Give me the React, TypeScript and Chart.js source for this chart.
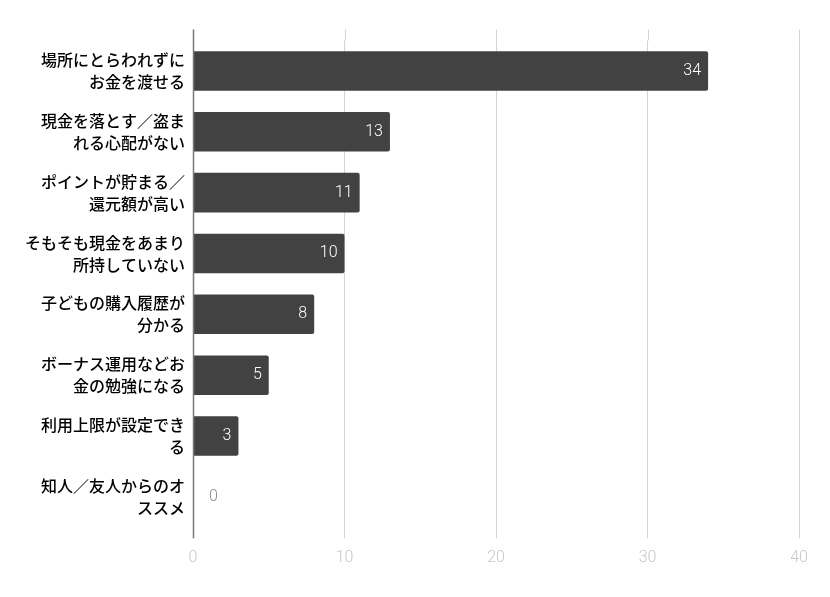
import React, { useEffect, useRef } from 'react';
import { Chart, registerables, ChartConfiguration, Plugin } from 'chart.js';

Chart.register(...registerables);

// tick labels of the category axis (two lines each)
const reasons: string[][] = [
  ['場所にとらわれずに', 'お金を渡せる'],
  ['現金を落とす／盗ま', 'れる心配がない'],
  ['ポイントが貯まる／', '還元額が高い'],
  ['そもそも現金をあまり', '所持していない'],
  ['子どもの購入履歴が', '分かる'],
  ['ボーナス運用などお', '金の勉強になる'],
  ['利用上限が設定でき', 'る'],
  ['知人／友人からのオ', 'ススメ'],
];

const counts: number[] = [34, 13, 11, 10, 8, 5, 3, 0];

const xTicks: number[] = [0, 10, 20, 30, 40];

const EXT = 11; // grid lines reach a bit past the plot area

// grid extension above the plot + the dark left axis line
const framePlugin: Plugin<'bar'> = {
  id: 'frame',
  beforeDatasetsDraw(chart) {
    const { ctx, chartArea, scales } = chart;
    const x = scales.x;
    ctx.save();
    ctx.strokeStyle = '#d4d4d4';
    ctx.lineWidth = 1;
    xTicks.forEach((v) => {
      const px = Math.round(x.getPixelForValue(v)) + 0.5;
      ctx.beginPath();
      ctx.moveTo(px, chartArea.top - EXT);
      ctx.lineTo(px, chartArea.top);
      ctx.stroke();
    });
    ctx.restore();
  },
  afterDraw(chart) {
    const { ctx, chartArea, scales } = chart;
    const px = Math.round(scales.x.getPixelForValue(0)) + 0.5;
    ctx.save();
    ctx.strokeStyle = '#7a7a7a';
    ctx.lineWidth = 1.5;
    ctx.beginPath();
    ctx.moveTo(px, chartArea.top - EXT);
    ctx.lineTo(px, chartArea.bottom + EXT);
    ctx.stroke();
    ctx.restore();
  },
};

// value labels at the bar ends
const valuePlugin: Plugin<'bar'> = {
  id: 'values',
  afterDatasetsDraw(chart) {
    const { ctx } = chart;
    const meta = chart.getDatasetMeta(0);
    ctx.save();
    ctx.font = '300 16px Roboto';
    ctx.textBaseline = 'middle';
    meta.data.forEach((bar: any, i: number) => {
      const v = counts[i];
      if (v > 0) {
        ctx.fillStyle = '#ffffff';
        ctx.textAlign = 'right';
        ctx.fillText(String(v), bar.x - 7, bar.y);
      } else {
        ctx.fillStyle = '#8a8a8a';
        ctx.textAlign = 'left';
        ctx.fillText(String(v), bar.x + 16, bar.y);
      }
    });
    ctx.restore();
  },
};

export default function App() {
  const canvasRef = useRef<HTMLCanvasElement | null>(null);

  useEffect(() => {
    if (!canvasRef.current) return;
    const ctx = canvasRef.current.getContext('2d');
    if (!ctx) return;

    const config: ChartConfiguration<'bar', number[], string[]> = {
      type: 'bar',
      data: {
        labels: reasons,
        datasets: [
          {
            data: counts,
            backgroundColor: '#424242',
            borderRadius: 2,
            borderSkipped: 'start',
            barPercentage: 0.65,
            categoryPercentage: 1,
          },
        ],
      },
      options: {
        indexAxis: 'y',
        responsive: true,
        maintainAspectRatio: false,
        animation: false,
        layout: { padding: { top: 40.5, right: 31, bottom: 19.5, left: 0 } },
        plugins: {
          legend: { display: false },
          tooltip: { enabled: false },
        },
        scales: {
          x: {
            min: 0,
            max: 40,
            ticks: {
              stepSize: 10,
              padding: 10,
              color: '#c8c8c8',
              font: { family: 'Roboto', size: 16, weight: 300 },
            },
            grid: {
              color: '#d4d4d4',
              tickColor: '#d4d4d4',
              drawTicks: true,
              tickLength: EXT,
            },
            border: { display: false },
          },
          y: {
            afterFit: (scale) => {
              scale.width = 193;
            },
            ticks: {
              padding: 0,
              color: '#000000',
              font: { family: '"Noto Sans CJK JP"', size: 16, weight: 500, lineHeight: 1.375 },
            },
            grid: { display: false },
            border: { display: false },
          },
        },
      },
      plugins: [framePlugin, valuePlugin],
    };

    const chart = new Chart(ctx, config);
    return () => {
      chart.destroy();
    };
  }, []);

  return (
    <div style={{ position: 'fixed', left: 0, top: 0, width: 830, height: 597, background: '#fff' }}>
      <canvas ref={canvasRef} />
    </div>
  );
}
